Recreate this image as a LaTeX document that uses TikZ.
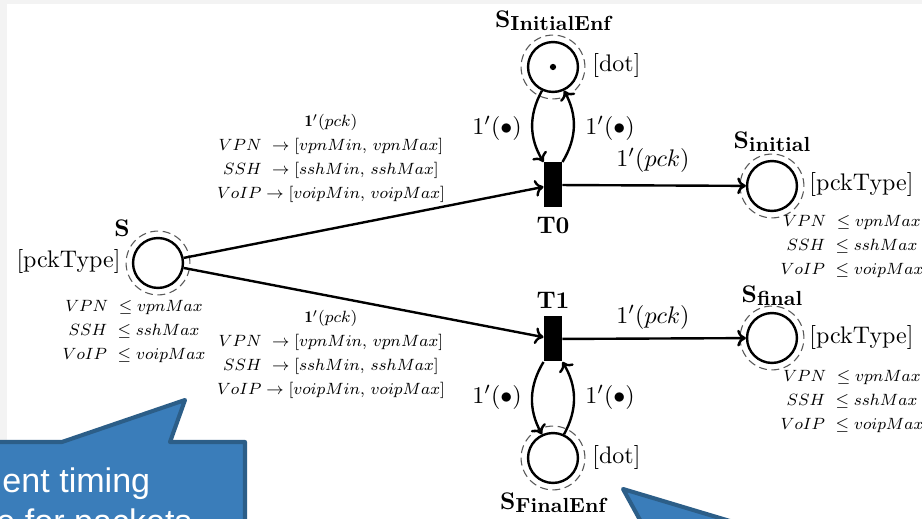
\documentclass[tikz,border=0pt]{standalone}
\usetikzlibrary{arrows.meta}
\usepackage{graphicx}
\usepackage{fontspec}
\newfontfamily\calloutfont{Liberation Sans}
\definecolor{callfill}{HTML}{3A7DBA}
\definecolor{callline}{HTML}{2C5E88}
\definecolor{edgegrey}{HTML}{F3F3F3}
\newcommand{\pname}[1]{\textbf{S}\raisebox{-1.3pt}{\fontsize{8.5}{10}\selectfont\bfseries #1}}
\newcommand{\minitab}[1]{\scalebox{0.85}{\fontsize{8}{11.76}\selectfont\begin{tabular}{@{}c@{}}#1\end{tabular}}}
\begin{document}
\begin{tikzpicture}[x=0.41667pt,y=-0.41667pt,
  placenode/.style={circle,draw,line width=1pt,minimum size=20.8pt,inner sep=0pt},
  halo/.style={draw,line width=0.45pt,dash pattern=on 3.3pt off 1.9pt,gray!70!black},
  trans/.style={rectangle,fill=black,minimum width=7.5pt,minimum height=18.75pt,inner sep=0pt},
  flow/.style={line width=1pt,-{To[length=3.6pt,width=7pt]}},
  lbl/.style={inner sep=0pt},
  small/.style={inner sep=0pt},
  callout/.style={fill=callfill,draw=callline,line width=1.7pt,line join=round},
  callouttext/.style={inner sep=0pt,text=white,font=\calloutfont\fontsize{14.2}{16}\selectfont}
]
\useasboundingbox (0,0) rectangle (922,519);
\clip (0,0) rectangle (922,519);
\fill[edgegrey] (0,0) rectangle (922,519);
\fill[white] (7,4) rectangle (922,519);

% places
\node[placenode] (S) at (158,263) {};
\node[placenode] (SIE) at (553,67) {};
\node[placenode] (SFE) at (553,458) {};
\node[placenode] (Sin) at (772,186) {};
\node[placenode] (Sfi) at (772,338) {};
\foreach \p in {S,SIE,SFE,Sin,Sfi}{\draw[halo] (\p) circle (13.3pt);}
\fill (SIE) circle (1.3pt);

% transitions
\node[trans] (T0) at (553,185) {};
\node[trans] (T1) at (553,339) {};

% arcs
\draw[flow] (S) -- (T0);
\draw[flow] (S) -- (T1);
\draw[flow] (T0) -- (Sin);
\draw[flow] (T1) -- (Sfi);
\draw[flow] (SIE.245) to[bend right=30] (T0.north west);
\draw[flow] (T0.north east) to[bend right=30] (SIE.295);
\draw[flow] (T1.south west) to[bend right=30] (SFE.115);
\draw[flow] (SFE.65) to[bend right=30] (T1.south east);

% names
\node[lbl] at (122,228) {\textbf{S}};
\node[lbl] at (553,21) {\pname{InitialEnf}};
\node[lbl] at (553,503) {\pname{FinalEnf}};
\node[lbl] at (772,142) {\pname{initial}};
\node[lbl] at (772,296) {\pname{final}};
\node[lbl] at (553,226) {\textbf{T0}};
\node[lbl] at (553,300) {\textbf{T1}};

% colour sets
\node[lbl,anchor=east] at (121,262) {[pckType]};
\node[lbl,anchor=west] at (809,185) {[pckType]};
\node[lbl,anchor=west] at (809,338) {[pckType]};
\node[lbl,anchor=west] at (592,66) {[dot]};
\node[lbl,anchor=west] at (592,458) {[dot]};

% arc inscriptions
\node[lbl] at (653,160) {$1'(pck)$};
\node[lbl] at (653,317) {$1'(pck)$};
\node[lbl] at (497,128) {$1'(\bullet)$};
\node[lbl] at (610,128) {$1'(\bullet)$};
\node[lbl] at (497,397) {$1'(\bullet)$};
\node[lbl] at (610,397) {$1'(\bullet)$};

\node[small] at (331,158) {\minitab{$\mathbf{1}'(pck)$\\ $VPN\ \rightarrow [vpnMin,\, vpnMax]$\\ $SSH\ \rightarrow [sshMin,\, sshMax]$\\ $VoIP \rightarrow [voipMin,\, voipMax]$}};
\node[small] at (331,354) {\minitab{$\mathbf{1}'(pck)$\\ $VPN\ \rightarrow [vpnMin,\, vpnMax]$\\ $SSH\ \rightarrow [sshMin,\, sshMax]$\\ $VoIP \rightarrow [voipMin,\, voipMax]$}};

% guards
\node[small] at (134,331) {\minitab{$VPN\ \leq vpnMax$\\ $SSH\ \leq sshMax$\\ $VoIP\ \leq voipMax$}};
\node[small] at (852,246) {\minitab{$VPN\ \leq vpnMax$\\ $SSH\ \leq sshMax$\\ $VoIP\ \leq voipMax$}};
\node[small] at (852,401) {\minitab{$VPN\ \leq vpnMax$\\ $SSH\ \leq sshMax$\\ $VoIP\ \leq voipMax$}};

% callouts
\draw[callout] (-20,442) -- (62,442) -- (185,400) -- (170,442) -- (245,442) -- (245,560) -- (-20,560) -- cycle;
\node[callouttext,anchor=base west] at (2,493) {ent timing};
\node[callouttext,anchor=base west] at (-4,534) {e for packets};
\draw[callout] (662,560) -- (623,489) -- (860,560) -- cycle;
\end{tikzpicture}
\end{document}
